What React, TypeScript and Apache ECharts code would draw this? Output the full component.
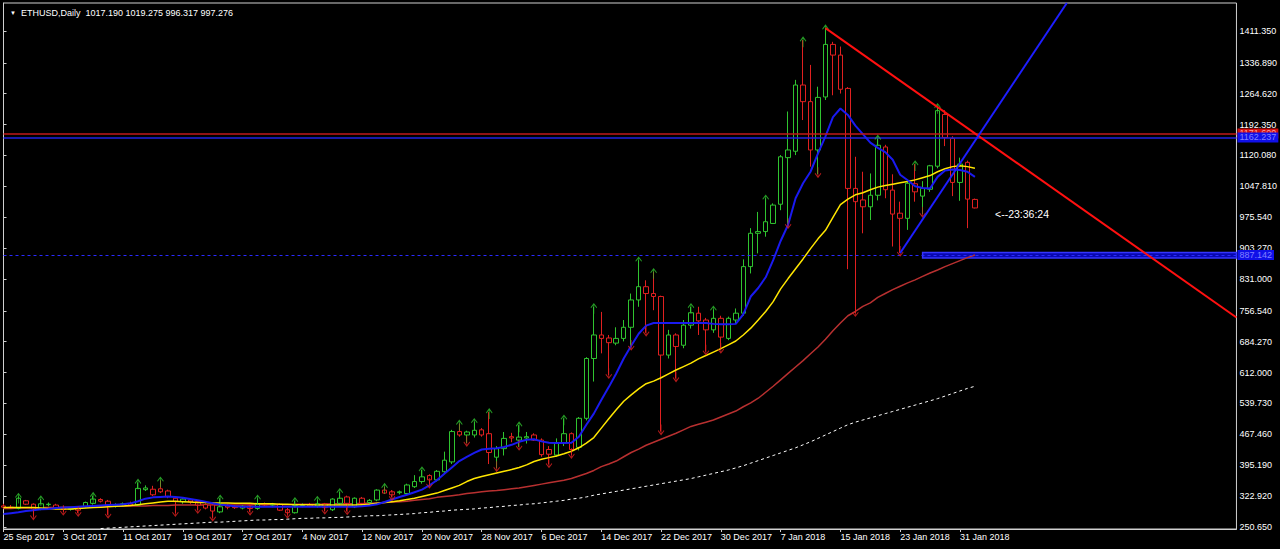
import React, { useEffect, useRef } from "react";
import * as echarts from "echarts";

// ---------- DATA ----------
const MONTHS = ["Jan","Feb","Mar","Apr","May","Jun","Jul","Aug","Sep","Oct","Nov","Dec"];
const N_CAT = 166; // daily slots incl. empty right margin (chart shift)
const START = Date.UTC(2017, 8, 25);
const dates: string[] = Array.from({ length: N_CAT }, (_, i) => {
  const d = new Date(START + i * 86400000);
  return `${d.getUTCDate()} ${MONTHS[d.getUTCMonth()]} ${d.getUTCFullYear()}`;
});

const opens = [300,297,294,312,304,293,303,302,296,292, 295,298,306,315,311,300,303,305,302,338,
  339,340,335,318,310,314,310,303,302,286, 300,298,295,300,294,304,302,304,291,284,
  301,302,299,305,291,306,321,298,318,308, 314,337,333,331,329,345,357,371,361,380,
  403,474,466,466,478,469,414,434,462,454, 459,466,454,432,419,447,469,437,505,645,
  700,693,681,692,718,782,813,797,790,653, 700,676,723,751,735,712,739,692,735,751,
  860,938,942,961,1006,1115,1130,1285,1246,1133, 1257,1380,1355,1277,1043,1016,1000,1027,1140,1039,
  985,973,1054,1025,1041,1095,1216,1160,1057,1104, 1017.19];
const highs = [305,302,322,314,306,316,308,305,300,297, 298,310,324,318,314,306,308,310,355,348,
  347,360,338,321,320,318,313,306,305,318, 305,302,302,303,318,308,307,306,295,312,
  306,307,315,307,318,333,324,320,321,316, 339,345,337,336,352,372,384,374,384,427,
  478,493,476,497,482,520,440,473,471,489, 473,470,458,440,458,505,472,508,648,766,
  754,700,718,735,797,875,828,848,792,712, 704,735,766,766,740,760,745,743,762,877,
  950,988,1020,1008,1121,1223,1297,1390,1332,1281, 1418,1386,1375,1280,1117,1082,1078,1160,1145,1076,
  1012,1063,1100,1060,1098,1234,1226,1165,1115,1108, 1019.275];
const lows = [293,293,292,302,275,290,299,292,286,289, 283,295,303,308,279,296,299,299,300,335,
  323,330,318,283,305,305,290,292,272,283, 292,293,292,286,291,298,297,288,279,282,
  297,297,296,288,288,303,287,295,303,305, 311,328,320,327,325,342,352,349,357,377,
  398,462,447,460,462,398,388,418,449,438, 446,452,415,397,415,440,419,430,500,591,
  657,606,676,685,672,766,705,758,474,645, 598,669,715,700,661,705,665,688,728,745,
  844,891,930,960,992,957,1121,1203,1094,1076, 1250,1261,1265,854,751,938,969,1015,1020,907,
  892,946,1012,983,1035,1090,1142,1025,1014,950, 996.317];
const closes = [297,296,318,304,293,305,304,295,292,294, 290,308,316,311,299,303,305,302,341,342,
  326,333,322,310,316,309,302,295,288,298, 297,296,299,294,304,302,304,290,284,301,
  302,299,305,296,316,318,306,318,306,313, 337,330,326,333,349,357,368,361,381,407,
  474,466,473,477,466,425,434,458,459,461, 462,454,420,421,446,469,432,505,645,700,
  692,682,692,718,782,813,797,790,653,700, 673,723,752,733,712,739,695,739,751,860,
  938,942,965,1004,1117,1133,1285,1246,1133,1256, 1380,1355,1275,1043,1012,1000,1027,1144,1040,983,
  973,1055,1035,1043,1096,1225,1162,1057,1100,1018, 997.276];

const blueMA = [281,283,285,288,290,292,293,295,296,297, 298,299,300,301,302,303,304,306,311,317,
  320,321,322,321,319,316,313,310,306,303, 301,299,298,298,298,298,298,298,298,298,
  298,298,298,298,298,298,298,298,299,301, 304,309,315,321,326,332,338,348,360,375,
  390,405,415,424,432,434,435,438,443,450, 455,456,451,448,447,447,448,462,490,516,
  548,578,610,645,675,703,722,728,728,728, 728,728,728,728,728,726,725,725,726,748,
  790,810,835,875,920,958,1020,1055,1082,1125, 1165,1210,1230,1215,1190,1170,1150,1138,1128,1110,
  1075,1062,1048,1044,1043,1070,1085,1087,1086,1082, 1070];
const yellowMA = [296,296,296,296,296,295,294,293,293,293, 294,295,296,297,298,299,300,301,303,305,
  307,309,311,311,310,309,308,308,307,307, 307,306,306,306,305,305,305,304,304,303,
  303,303,302,302,302,302,302,302,303,304, 306,308,310,312,315,318,322,326,330,336,
  342,348,357,364,369,373,377,381,385,390, 396,404,409,413,417,422,428,436,447,460,
  482,504,525,545,560,574,586,592,600,609, 618,626,634,644,652,660,668,677,686,700,
  716,735,755,778,808,832,855,878,902,925, 945,975,1005,1018,1028,1033,1040,1046,1050,1053,
  1056,1059,1063,1068,1073,1082,1089,1094,1096,1094, 1090];
const redMA = [294,294,295,295,295,296,296,296,297,297, 297,298,298,298,299,299,299,300,300,300,
  301,301,301,302,302,302,302,302,302,302, 302,302,302,303,303,303,303,303,303,304,
  304,304,304,304,305,305,305,305,306,306, 307,308,309,310,311,313,315,317,320,322,
  324,326,329,331,333,335,336,338,340,342, 345,348,351,354,357,360,364,370,376,383,
  392,398,405,415,425,433,442,449,456,463, 470,478,486,491,496,501,508,515,522,532,
  541,552,566,580,595,610,625,640,656,672, 690,710,728,745,755,767,775,788,797,806,
  814,822,829,837,845,852,860,867,874,881, 887];
const whiteMA = [null,null,null,null,null,null,null,null,null,null, null,null,null,247,248,249,250,251,252,253,
  254,255,256,257,258,259,260,261,262,262, 263,264,265,266,267,267,268,268,269,270,
  271,271,272,272,273,273,274,275,276,277, 277,278,279,280,281,282,284,285,287,288,
  290,291,292,293,295,296,298,299,301,302, 304,305,307,309,311,313,316,318,321,325,
  328,331,334,337,340,343,346,349,352,355, 358,361,364,368,372,376,380,384,389,394,
  400,406,412,418,424,430,436,443,450,458, 466,474,482,490,496,501,506,511,516,521,
  526,531,536,541,546,551,557,563,569,575, 580];

const upArrowIdx = [2,5,12,18,21,29,34,39,42,45,51,56,61,63,65,69,75,79,85,87,92,95,102,107,110,117,122,125];
const downArrowIdx = [4,8,10,14,23,26,28,33,38,43,46,52,57,62,66,69,73,76,81,84,86,88,90,94,96,105,109,114,120,123];

const priceTicks = [250.65,322.92,395.19,467.46,539.73,612.0,684.27,756.54,831.0,903.27,975.54,1047.81,1120.08,1192.35,1264.62,1336.89,1411.35];
const Y_MIN = 245.97;
const Y_MAX = 1476.9;

// horizontal levels: [price, label text]
const redLevel = 1171.6;
const redLevelText = "1171.600";
const blueLevel = 1162.2;
const blueLevelText = "1162.237";
const supportLevel = 887.142;
const supportLevelText = "887.142";
const bandTop = 893;
const bandBottom = 880;
const bandStartIdx = 123;

const trendRed = [[110, 1418], [165, 741]];
const trendBlue = [[120, 892], [142.3, 1476.9]];

const countdown = "<--23:36:24";

// ---------- STYLE ----------
const GREEN = "#2fc42f";
const RED = "#e02020";
const FG = "#d0d0d0";
const FONT = "Liberation Sans";

const nBars = closes.length;
const last = nBars - 1;

export default function App() {
  const ref = useRef<HTMLDivElement>(null);
  useEffect(() => {
    const chart = echarts.init(ref.current!, null, { renderer: "svg" });
    const candleData = opens.map((o, i) => [o, closes[i], lows[i], highs[i]]);
    const showTick = (i: number) => i % 8 === 0 && i < nBars;
    const boxLabel = (text: string, bg: string, fg: string) => ({
      show: true,
      position: "end" as const,
      distance: 1,
      formatter: () => text,
      backgroundColor: bg,
      color: fg,
      fontSize: 9,
      fontFamily: FONT,
      padding: [1, 2, 0, 2],
    });
    const option: any = {
      animation: false,
      backgroundColor: "#000",
      title: {
        left: 5,
        top: 3,
        text: `{a|▼}  ETHUSD,Daily  ${opens[last].toFixed(3)} ${highs[last].toFixed(3)} ${lows[last].toFixed(3)} ${closes[last].toFixed(3)}`,
        textStyle: {
          color: "#fff",
          fontSize: 9,
          fontWeight: "normal",
          fontFamily: FONT,
          rich: { a: { fontSize: 6, color: "#fff" } },
        },
      },
      grid: {
        left: 3.5,
        right: 40,
        top: 3,
        bottom: 20,
        show: true,
        borderColor: FG,
        borderWidth: 1,
        backgroundColor: "#000",
      },
      xAxis: [
        {
          type: "category",
          data: dates,
          boundaryGap: false,
          axisLine: { lineStyle: { color: FG } },
          axisTick: { interval: showTick, length: 3, lineStyle: { color: FG } },
          axisLabel: {
            interval: showTick,
            align: "left",
            margin: 3,
            color: "#fff",
            fontSize: 9,
            fontFamily: FONT,
          },
          splitLine: { show: false },
        },
        { type: "value", min: 0, max: N_CAT - 1, show: false },
      ],
      yAxis: {
        type: "value",
        position: "right",
        min: Y_MIN,
        max: Y_MAX,
        axisLine: { show: true, lineStyle: { color: FG } },
        axisTick: { show: true, customValues: priceTicks, length: 3, lineStyle: { color: FG } },
        axisLabel: {
          customValues: priceTicks,
          formatter: (v: number) => v.toFixed(3),
          color: "#fff",
          fontSize: 9,
          fontFamily: FONT,
          margin: 3,
        },
        splitLine: { show: false },
      },
      graphic: [
        {
          type: "text",
          x: 995,
          y: 214,
          style: {
            text: countdown,
            fill: "#fff",
            fontSize: 10.5,
            fontFamily: FONT,
            verticalAlign: "middle",
          },
        },
      ],
      series: [
        {
          type: "line",
          name: "MA long",
          data: whiteMA,
          symbol: "none",
          lineStyle: { color: "#ffffff", width: 1, type: [3, 3] },
          z: 2,
        },
        {
          type: "line",
          name: "MA red",
          data: redMA,
          symbol: "none",
          lineStyle: { color: "#b83030", width: 1.5 },
          z: 2,
        },
        {
          type: "candlestick",
          data: candleData,
          barWidth: 5,
          itemStyle: {
            color: "#000",
            color0: "#000",
            borderColor: GREEN,
            borderColor0: RED,
            borderWidth: 1,
          },
          z: 3,
          markLine: {
            silent: true,
            symbol: "none",
            animation: false,
            data: [
              { yAxis: redLevel, lineStyle: { color: "#c01818", width: 1.5, type: "solid" }, label: boxLabel(redLevelText, "#d01010", "#ff9a9a") },
              { yAxis: blueLevel, lineStyle: { color: "#2222e0", width: 1.5, type: "solid" }, label: boxLabel(blueLevelText, "#1010e8", "#8080ff") },
              { yAxis: supportLevel, lineStyle: { color: "#2a2aff", width: 1, type: [3, 3] }, label: boxLabel(supportLevelText, "#1010e8", "#8080ff") },
              { yAxis: closes[last], lineStyle: { opacity: 0, width: 0 }, label: boxLabel(closes[last].toFixed(3), "#ffffff", "#000000") },
            ],
          },
          markArea: {
            silent: true,
            itemStyle: { color: "#0808b0", borderColor: "#3434ff", borderWidth: 1.5 },
            data: [[{ xAxis: dates[bandStartIdx], yAxis: bandTop }, { xAxis: dates[N_CAT - 1], yAxis: bandBottom }]],
          },
        },
        {
          type: "line",
          name: "MA yellow",
          data: yellowMA,
          symbol: "none",
          lineStyle: { color: "#ffe600", width: 1.5 },
          z: 4,
        },
        {
          type: "line",
          name: "MA blue",
          data: blueMA,
          symbol: "none",
          lineStyle: { color: "#1a1af0", width: 2 },
          z: 4,
        },
        {
          type: "scatter",
          data: upArrowIdx.map((i) => [i, highs[i]]),
          symbol: "path://M0,4L3,0L6,4M3,0L3,10",
          symbolSize: [6, 10],
          symbolOffset: [0, 2],
          itemStyle: { color: "rgba(0,0,0,0)", borderColor: GREEN, borderWidth: 1 },
          z: 5,
        },
        {
          type: "scatter",
          data: downArrowIdx.map((i) => [i, lows[i]]),
          symbol: "path://M0,6L3,10L6,6M3,10L3,0",
          symbolSize: [6, 10],
          symbolOffset: [0, -2],
          itemStyle: { color: "rgba(0,0,0,0)", borderColor: RED, borderWidth: 1 },
          z: 5,
        },
        {
          type: "line",
          xAxisIndex: 1,
          data: trendRed,
          symbol: "none",
          lineStyle: { color: "#ff1010", width: 2 },
          z: 6,
        },
        {
          type: "line",
          xAxisIndex: 1,
          data: trendBlue,
          symbol: "none",
          lineStyle: { color: "#1e1eff", width: 2 },
          z: 6,
        },
      ],
    };
    chart.setOption(option);
    return () => chart.dispose();
  }, []);
  return (
    <div
      ref={ref}
      style={{ position: "fixed", left: 0, top: 0, width: 1280, height: 549, background: "#000" }}
    />
  );
}
